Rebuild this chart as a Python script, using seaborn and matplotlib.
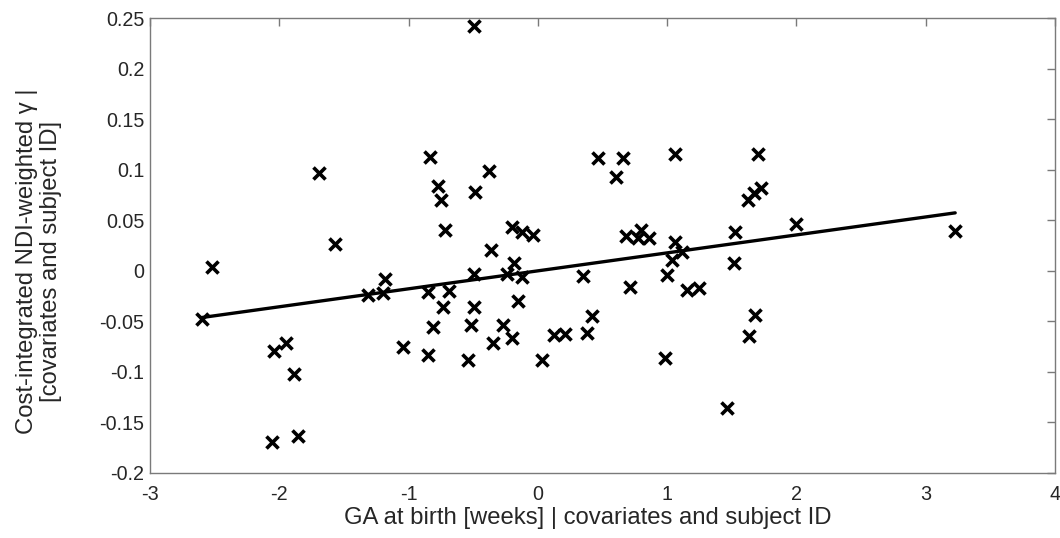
import numpy as np
import pandas as pd
import matplotlib
matplotlib.use("Agg")
import matplotlib.pyplot as plt
import seaborn as sns

# Partial residuals: GA at birth vs cost-integrated NDI-weighted gamma
ga_resid = [
    -2.599, -2.519, -2.058, -2.040, -1.950, -1.890, -1.857, -1.692, -1.569,
    -1.311, -1.198, -1.182, -1.043, -0.852, -0.852, -0.832, -0.814, -0.773,
    -0.747, -0.734, -0.721, -0.688, -0.543, -0.518, -0.497, -0.497, -0.497,
    -0.489, -0.376, -0.366, -0.350, -0.273, -0.240, -0.203, -0.198, -0.185,
    -0.152, -0.124, -0.121, -0.041, 0.034, 0.121, 0.212, 0.348, 0.379,
    0.417, 0.469, 0.608, 0.662, 0.683, 0.714, 0.776, 0.801, 0.863,
    0.985, 0.997, 1.039, 1.059, 1.059, 1.116, 1.157, 1.244, 1.462,
    1.520, 1.525, 1.623, 1.636, 1.675, 1.682, 1.700, 1.726, 1.997, 3.228,
]
gamma_resid = [
    -0.0478, 0.0036, -0.1698, -0.0798, -0.0719, -0.1019, -0.1632, 0.0970, 0.0262,
    -0.0244, -0.0224, -0.0082, -0.0755, -0.0208, -0.0831, 0.1125, -0.0557, 0.0834,
    0.0699, -0.0363, 0.0399, -0.0198, -0.0880, -0.0541, 0.2417, -0.0030, -0.0363,
    0.0784, 0.0989, 0.0208, -0.0712, -0.0534, -0.0030, -0.0666, 0.0432, 0.0076,
    -0.0294, 0.0386, -0.0062, 0.0353, -0.0887, -0.0636, -0.0630, -0.0056, -0.0616,
    -0.0445, 0.1114, 0.0927, 0.1114, 0.0343, -0.0161, 0.0326, 0.0406, 0.0326,
    -0.0864, -0.0040, 0.0102, 0.1150, 0.0280, 0.0181, -0.0188, -0.0171, -0.1358,
    0.0076, 0.0379, 0.0702, -0.0643, 0.0768, -0.0435, 0.1150, 0.0814, 0.0462, 0.0396,
]

x_ticks = [-3, -2, -1, 0, 1, 2, 3, 4]
y_ticks = [-0.2, -0.15, -0.1, -0.05, 0, 0.05, 0.1, 0.15, 0.2, 0.25]
y_tick_labels = ["-0.2", "-0.15", "-0.1", "-0.05", "0", "0.05", "0.1", "0.15", "0.2", "0.25"]

df = pd.DataFrame({"ga": ga_resid, "gamma": gamma_resid})

sns.set_theme(style="white")
plt.rcParams["font.family"] = ["Liberation Sans", "DejaVu Sans"]

text_color = "#262626"
axis_color = "#7a7a7a"

fig, ax = plt.subplots(figsize=(10.6, 5.38), dpi=100)
fig.subplots_adjust(left=150 / 1060, right=1055 / 1060, top=1 - 18 / 538, bottom=1 - 473 / 538)

sns.scatterplot(data=df, x="ga", y="gamma", marker="x", color="black",
                s=75, linewidth=2.6, ax=ax, zorder=3)
sns.regplot(data=df, x="ga", y="gamma", scatter=False, ci=None, truncate=True,
            color="black", line_kws={"linewidth": 2.4}, ax=ax)

ax.set_xlim(-3, 4)
ax.set_ylim(-0.2, 0.25)
ax.set_xticks(x_ticks)
ax.set_xticklabels([str(t) for t in x_ticks])
ax.set_yticks(y_ticks)
ax.set_yticklabels(y_tick_labels)

ax.tick_params(axis="both", direction="in", length=6, width=1, color=axis_color,
               labelsize=14.2, labelcolor=text_color, top=True, right=True,
               labeltop=False, labelright=False)
ax.tick_params(axis="x", pad=9)
ax.tick_params(axis="y", pad=4)
for spine in ax.spines.values():
    spine.set_visible(True)
    spine.set_color(axis_color)
    spine.set_linewidth(1)

ax.set_xlabel("GA at birth [weeks] | covariates and subject ID", fontsize=17.2,
              color=text_color)
ax.set_ylabel("Cost-integrated NDI-weighted γ |\n[covariates and subject ID]",
              fontsize=17.2, color=text_color, linespacing=1.1)
ax.xaxis.set_label_coords(0.4834, -0.074)
ax.yaxis.set_label_coords(-0.0975, 0.466)

fig.savefig("out.png", dpi=100, facecolor="white")
